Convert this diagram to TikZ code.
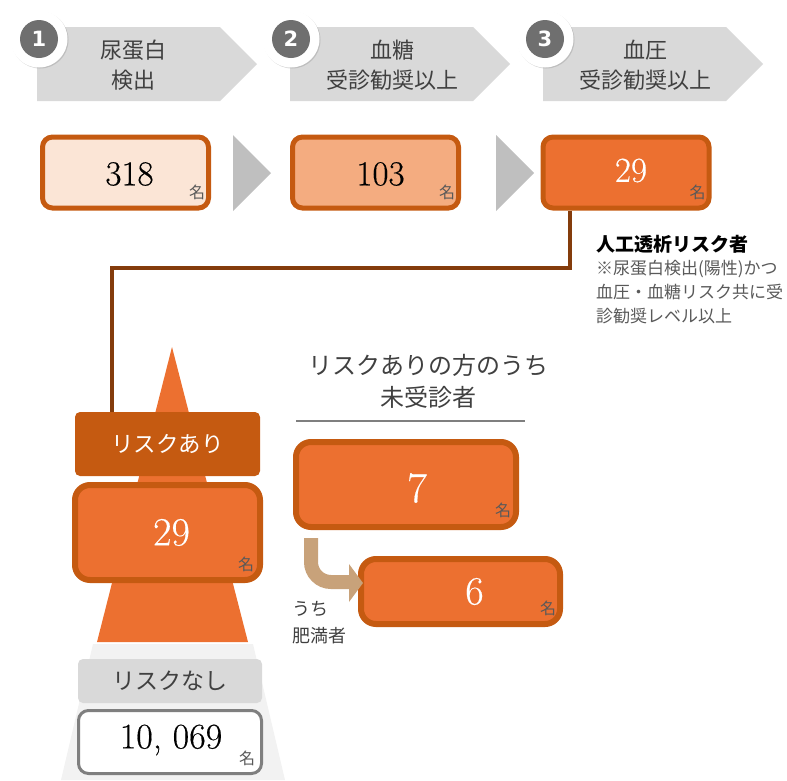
\documentclass[tikz,border=0pt]{standalone}
\usepackage{fontspec}
\newfontfamily\jp{Noto Sans CJK JP}
\newfontfamily\numsans{DejaVu Sans}
\newfontfamily\numf{Latin Modern Roman}[FakeBold=0.35]
\usetikzlibrary{shadows,calc}
\definecolor{chev}{HTML}{D9D9D9}
\definecolor{circg}{HTML}{6F6F6F}
\definecolor{dkor}{HTML}{C55A11}
\definecolor{lightor}{HTML}{FBE5D6}
\definecolor{midor}{HTML}{F4AC80}
\definecolor{mainor}{HTML}{EC7030}
\definecolor{brownl}{HTML}{843C0C}
\definecolor{trig}{HTML}{BFBFBF}
\definecolor{tanc}{HTML}{C8A27A}
\definecolor{lgray}{HTML}{F2F2F2}
\definecolor{meig}{HTML}{595959}
\definecolor{txtg}{HTML}{404040}
\definecolor{lineg}{HTML}{7F7F7F}
\begin{document}
\begin{tikzpicture}[x=1pt,y=-1pt,
  ring/.style={circle, fill=white, minimum size=57pt, inner sep=0pt,
    drop shadow={opacity=0.3, shadow xshift=1pt, shadow yshift=-1pt}},
  numcirc/.style={circle, fill=circg, minimum size=38pt, inner sep=0pt, text=white,
    font=\numsans\bfseries\fontsize{21}{21}\selectfont},
  steptext/.style={align=center, text=txtg, font=\jp\fontsize{22}{30}\selectfont},
  numbox/.style={draw=dkor, line width=5pt, rounded corners=10pt, minimum width=166pt,
    minimum height=71pt, inner sep=0pt},
  bigbox/.style={draw=dkor, line width=6pt, rounded corners=15pt, fill=mainor, inner sep=0pt},
  numtxt/.style={inner sep=0pt, font=\numf\fontsize{35}{35}\selectfont},
  mei/.style={inner sep=0pt, text=meig, font=\jp\fontsize{16}{16}\selectfont}
]
\useasboundingbox (0,0) rectangle (787,780);

% ---- step chevrons
\foreach \dx in {0,253,506}{
  \fill[chev] (37+\dx,27) -- (220+\dx,27) -- (257+\dx,64) -- (220+\dx,101) -- (37+\dx,101) -- cycle;
}
\node[ring] (r1) at (39,39) {};
\node[numcirc] (c1) at (r1) {1};
\node[ring] (r2) at (291,39) {};
\node[numcirc] (c2) at (r2) {2};
\node[ring] (r3) at (545,39) {};
\node[numcirc] (c3) at (r3) {3};
\node[steptext] (s1) at (133,65) {尿蛋白\\検出};
\node[steptext] (s2) at (392,65) {血糖\\受診勧奨以上};
\node[steptext] (s3) at (645,65) {血圧\\受診勧奨以上};

% ---- top number boxes
\fill[trig] (233,135) -- (271,173) -- (233,211) -- cycle;
\fill[trig] (496,135) -- (534,173) -- (496,211) -- cycle;
\node[numbox, fill=lightor] (b1) at (125.5,172.5) {};
\node[numbox, fill=midor] (b2) at (375.5,172.5) {};
\node[numbox, fill=mainor] (b3) at (626,172.5) {};
\node[numtxt] (t1) at ([xshift=4pt,yshift=-1.5pt]b1.center) {318};
\node[numtxt] (t2) at ([xshift=5pt,yshift=-1.5pt]b2.center) {103};
\node[numtxt, text=white] (t3) at ([xshift=5pt,yshift=2pt]b3.center) {29};
\node[mei] (m1) at ([xshift=-14pt,yshift=18pt]b1.south east) {名};
\node[mei] (m2) at ([xshift=-14pt,yshift=18pt]b2.south east) {名};
\node[mei] (m3) at ([xshift=-14pt,yshift=18pt]b3.south east) {名};

% ---- annotation
\node[anchor=west, inner sep=0pt, font=\jp\bfseries\fontsize{19}{19}\selectfont] (ann) at (596,244) {人工透析リスク者};
\node[anchor=west, align=left, inner sep=0pt, text=meig, font=\jp\fontsize{17}{24}\selectfont] (note) at (596,292)
  {※尿蛋白検出(陽性)かつ\\血圧・血糖リスク共に受\\診勧奨レベル以上};

% ---- tower
\fill[lgray] (93,644) -- (253,644) -- (285,780) -- (61,780) -- cycle;
\fill[mainor] (172,347) -- (248,642) -- (97,642) -- cycle;

\node[fill=dkor, rounded corners=5pt, minimum width=185pt, minimum height=64pt, inner sep=0pt,
  text=white, font=\jp\fontsize{22.5}{22.5}\selectfont] (ry) at (167.5,444) {リスクあり};
\coordinate (k1) at (570,268);
\coordinate (k2) at (112,268);
\draw[brownl, line width=4pt] (b3.south -| k1) -- (k1) -- (k2) -- (k2 |- ry.north);

\node[bigbox, minimum width=185pt, minimum height=95pt] (by) at (167.5,532.5) {};
\node[numtxt, text=white, font=\numf\fontsize{40}{40}\selectfont] (ty) at ([xshift=4pt,yshift=0pt]by.center) {29};
\node[mei] (my) at ([xshift=-17pt,yshift=19pt]by.south east) {名};

\node[fill=chev, rounded corners=5pt, minimum width=184pt, minimum height=44pt, inner sep=0pt,
  text=txtg, font=\jp\fontsize{23}{23}\selectfont] (rn) at (170,681) {リスクなし};
\node[draw=lineg, line width=3pt, fill=white, rounded corners=10pt, minimum width=183pt,
  minimum height=63pt, inner sep=0pt] (bn) at (170,742) {};
\node[numtxt, font=\numf\fontsize{36}{36}\selectfont] (tn) at ([xshift=1pt,yshift=2pt]bn.center) {10, 069};
\node[mei] (mn) at ([xshift=-16pt,yshift=17pt]bn.south east) {名};

% ---- right side: not yet consulted
\node[align=center, text=txtg, font=\jp\fontsize{24}{32}\selectfont] (ttl) at (428,381) {リスクありの方のうち\\未受診者};
\coordinate (l1) at (296,421);
\coordinate (l2) at (525,421);
\draw[lineg, line width=1.2pt] (l1) -- (l2);

\node[bigbox, minimum width=220pt, minimum height=85pt] (b7) at (406,484.5) {};
\node[numtxt, text=white, font=\numf\fontsize{43}{43}\selectfont] (t7) at ([xshift=11pt,yshift=-3.5pt]b7.center) {7};
\node[mei] (m7) at ([xshift=-16pt,yshift=20pt]b7.south east) {名};

\node[bigbox, minimum width=199pt, minimum height=65pt] (b6) at (460.5,591.5) {};
\node[numtxt, text=white, font=\numf\fontsize{40}{40}\selectfont] (t6) at ([xshift=14pt,yshift=0pt]b6.center) {6};
\node[mei] (m6) at ([xshift=-15pt,yshift=19pt]b6.south east) {名};

% curved arrow
\coordinate (a1) at (311,582);
\coordinate (a2) at (351,582);
\draw[tanc, line width=14pt, rounded corners=20pt] ([yshift=-8pt]b7.south -| a1) -- (a1) -- (a2);
\fill[tanc] (349,564) -- (363,583) -- (349,602) -- cycle;

\node[anchor=west, align=left, inner sep=0pt, text=txtg, font=\jp\fontsize{18}{27}\selectfont] (uchi) at (292,623) {うち\\肥満者};
\end{tikzpicture}
\end{document}
